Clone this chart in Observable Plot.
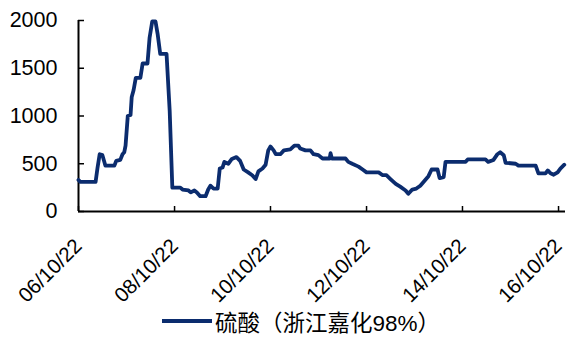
<!DOCTYPE html>
<html>
<head>
<meta charset="utf-8">
<script src="https://cdn.jsdelivr.net/npm/d3@7"></script>
<script src="https://cdn.jsdelivr.net/npm/@observablehq/plot@0.6"></script>
<style>
  body { margin: 0; background: #fff; font-family: "Liberation Sans", Arial, "Noto Sans CJK SC", sans-serif; }
  #legend { display: flex; align-items: center; margin-left: 162px; height: 32px; font-size: 22.5px; color: #000; font-family: "Liberation Sans", Arial, "Noto Sans CJK SC", sans-serif; }
  #legend .sw { width: 50px; height: 4px; background: #0b2c6e; margin-right: 3px; }
</style>
</head>
<body>
<div id="chart"></div>
<div id="legend"><span class="sw"></span><span id="legend-label"></span></div>
<script>
const seriesName = "硫酸（浙江嘉化98%）";
const dates = [
  "2006-10-22","2006-11-05","2007-03-01","2007-03-15","2007-04-01","2007-04-22","2007-05-15","2007-07-22",
  "2007-08-05","2007-09-05","2007-09-22","2007-10-05","2007-10-15","2007-11-01","2007-11-22","2007-12-01",
  "2007-12-15","2008-01-01","2008-02-05","2008-02-22","2008-03-30","2008-04-15","2008-05-05","2008-05-30",
  "2008-06-15","2008-07-05","2008-08-22","2008-09-15","2008-10-05","2008-12-05","2008-12-22","2009-02-05",
  "2009-02-22","2009-03-22","2009-04-10","2009-05-05","2009-06-15","2009-07-05","2009-07-22","2009-08-15",
  "2009-09-15","2009-10-01","2009-10-22","2009-11-05","2009-12-05","2010-01-01","2010-02-05","2010-03-05",
  "2010-04-01","2010-05-05","2010-06-05","2010-07-01","2010-07-22","2010-08-22","2010-09-15","2010-10-05",
  "2010-10-22","2010-11-15","2010-12-01","2011-01-05","2011-02-01","2011-03-22","2011-04-22","2011-05-22",
  "2011-06-05","2011-07-15","2011-08-22","2011-09-15","2011-10-22","2011-11-22","2012-01-15","2012-01-22",
  "2012-02-01","2012-05-15","2012-06-05","2012-07-05","2012-08-22","2012-09-22","2012-10-22","2013-01-22",
  "2013-02-22","2013-03-22","2013-04-22","2013-06-01","2013-07-05","2013-08-15","2013-09-05","2013-10-05",
  "2013-11-05","2013-12-05","2014-01-05","2014-02-05","2014-03-01","2014-04-15","2014-05-01","2014-06-01",
  "2014-06-15","2014-11-15","2014-12-01","2015-04-15","2015-05-05","2015-06-15","2015-07-15","2015-08-05",
  "2015-09-01","2015-09-15","2015-12-01","2015-12-22","2016-05-01","2016-05-22","2016-07-15","2016-08-01",
  "2016-08-22","2016-09-15","2016-10-15","2016-11-05","2016-12-05"
];
const values = [
  330,310,310,450,600,590,480,480,
  530,540,600,620,690,1000,1010,1200,
  1270,1400,1400,1550,1550,1820,1990,1990,
  1860,1650,1650,1050,250,250,230,220,
  200,220,200,160,160,230,270,240,
  240,450,460,520,500,550,570,530,
  440,410,380,340,420,450,490,640,
  680,640,600,600,640,650,690,690,
  660,640,640,600,590,555,555,610,
  555,555,520,500,470,440,410,410,
  380,380,340,290,260,220,185,230,
  240,270,320,370,440,440,350,360,
  520,520,545,545,520,540,600,620,
  590,510,500,480,480,400,400,430,
  400,385,410,450,490
];
const xTicks = ["2006-10-22","2008-10-22","2010-10-22","2012-10-22","2014-10-22","2016-10-22"];
const yTicks = [0, 500, 1000, 1500, 2000];
const xStart = "2006-10-22";
const xEnd = "2016-12-14";

const data = dates.map((d, i) => ({date: new Date(d), value: values[i]}));
const fmt = d3.utcFormat("%y/%m/%d");
const font = "'Liberation Sans', Arial, sans-serif";

const chart = Plot.plot({
  width: 573,
  height: 305,
  marginLeft: 78,
  marginRight: 8,
  marginTop: 20,
  marginBottom: 94,
  style: {fontFamily: font, color: "#000", background: "#fff"},
  x: {type: "utc", domain: [new Date(xStart), new Date(xEnd)]},
  y: {domain: [0, 2000]},
  marks: [
    Plot.axisY({ticks: yTicks, tickFormat: d3.format("d"), tickSize: -6, tickPadding: 27, fontSize: 21.5, stroke: "#000", strokeWidth: 1.5, label: null}),
    Plot.axisX({ticks: xTicks.map(d => new Date(d)), tickFormat: fmt, tickSize: -5, tickPadding: 36, tickRotate: -45, fontSize: 20.5, stroke: "#000", strokeWidth: 1.5, label: null}),
    Plot.ruleX([new Date(xStart)], {stroke: "#000", strokeWidth: 2}),
    Plot.ruleY([0], {stroke: "#000", strokeWidth: 2}),
    Plot.line(data, {x: "date", y: "value", stroke: "#0b2c6e", strokeWidth: 3.8, strokeLinejoin: "round"})
  ]
});
document.getElementById("chart").appendChild(chart);
document.getElementById("legend-label").textContent = seriesName;
</script>
</body>
</html>
